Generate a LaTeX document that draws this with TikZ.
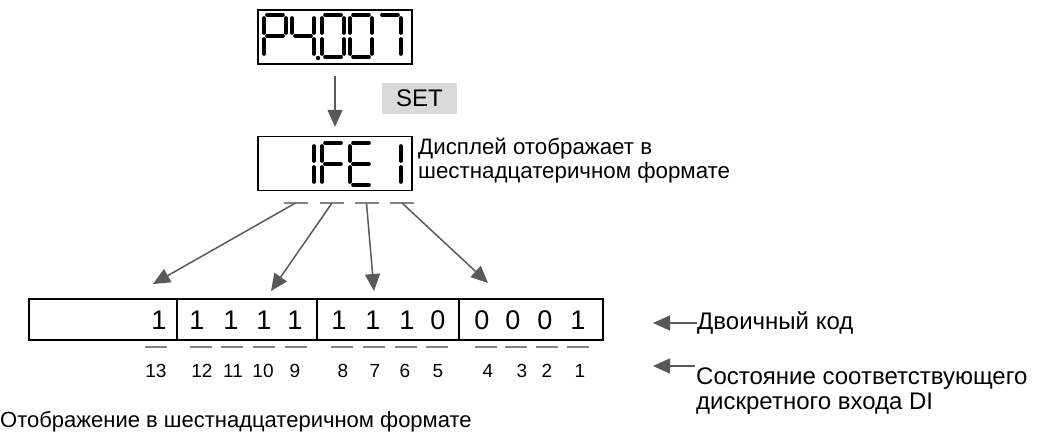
\documentclass[tikz,border=0pt]{standalone}
\usepackage{fontspec}
\setmainfont{Liberation Sans}
\usetikzlibrary{arrows.meta}
\definecolor{arrc}{HTML}{595959}
\definecolor{dashc}{HTML}{858585}
\definecolor{setbg}{HTML}{D9D9D9}
\newcommand\ssA{\draw[seg] (3,0)--(19,0);}
\newcommand\ssB{\draw[seg] (22,3)--(22,18);}
\newcommand\ssC{\draw[seg] (22,24)--(22,39);}
\newcommand\ssD{\draw[seg] (3,42)--(19,42);}
\newcommand\ssE{\draw[seg] (0,24)--(0,39);}
\newcommand\ssF{\draw[seg] (0,3)--(0,18);}
\newcommand\ssG{\draw[seg] (3,21)--(19,21);}
\newcommand\digitat[3]{\begin{scope}[shift={(#1,#2)}]#3\end{scope}}
\begin{document}
\begin{tikzpicture}[x=1pt,y=-1pt,
  seg/.style={line width=3.6pt,line cap=round},
  dispbox/.style={draw,line width=1.4pt,inner sep=0pt,minimum width=154pt,minimum height=54pt},
  arr/.style={draw=arrc,line width=1.5pt,-{Triangle[length=17pt,width=15pt]},arrc},
  hdash/.style={draw=dashc,line width=2.3pt},
  txt/.style={inner sep=0pt,font=\fontsize{22}{24}\selectfont,align=left},
  bigdig/.style={inner sep=0pt,font=\fontsize{27}{30}\selectfont},
  numlbl/.style={inner sep=0pt,font=\fontsize{19}{22}\selectfont},
  cell/.style={line width=1.4pt}]
\useasboundingbox (0,0) rectangle (1041,439);
% top display
\node[dispbox] (disp1) at (335,37) {};
\digitat{264}{15}{\ssA\ssB\ssF\ssG\ssE}
\digitat{292}{15}{\ssF\ssG\ssB\ssC}
\fill (318,58) circle (2.2pt);
\digitat{322}{15}{\ssA\ssB\ssC\ssD\ssE\ssF}
\digitat{350}{15}{\ssA\ssB\ssC\ssD\ssE\ssF}
\digitat{379}{15}{\ssA\ssB\ssC}
% second display
\node[dispbox] (disp2) at (335,163.5) {};
\digitat{292}{143}{\ssB\ssC}
\digitat{322}{143}{\ssA\ssF\ssG\ssE}
\digitat{350}{143}{\ssA\ssF\ssG\ssE\ssD}
\digitat{379}{143}{\ssB\ssC}
\draw[arr,shorten <=11pt,shorten >=9pt] (disp1.south) -- (disp2.north);
\node[fill=setbg,minimum width=75pt,minimum height=31pt,inner sep=0pt,font=\fontsize{24}{28}\selectfont] (set) at (419.5,98.5) {SET};
\node[txt,anchor=north west,font=\fontsize{22.3}{23.5}\selectfont] (dtext) at (418,138) {Дисплей отображает в\\шестнадцатеричном формате};
% dashes under display
\coordinate (h1) at (295.5,203);
\coordinate (h2) at (332,203);
\coordinate (h3) at (366.5,203);
\coordinate (h4) at (402,203);
\foreach \c in {h1,h2,h3,h4}{\draw[hdash] ([xshift=-12pt]\c) -- ([xshift=12pt]\c);}
\coordinate (t1) at (153,284);
\coordinate (t2) at (271,291);
\coordinate (t3) at (374,291);
\coordinate (t4) at (488,283);
\draw[arr] (h1) -- (t1);
\draw[arr] (h2) -- (t2);
\draw[arr] (h3) -- (t3);
\draw[arr] (h4) -- (t4);
% binary row
\draw[cell] (29,299) rectangle (603,340);
\draw[cell] (177,299) -- (177,340) (317,299) -- (317,340) (459,299) -- (459,340);
\foreach \x/\d in {159/1,197/1,231/1,264/1,295/1,339/1,373/1,407/1,438/0,482/0,513/0,545/0,578/1}{
  \node[bigdig] at (\x,320) {\d};}
\foreach \x in {156,201,232,264,296,342,374,406,437,486,516,547,578}{
  \draw[hdash] (\x-11,347) -- (\x+11,347);}
\foreach \x/\n in {156/13,202/12,233/11,263/10,295/9,343/8,375/7,405/6,438/5,488/4,522/3,547/2,580/1}{
  \node[numlbl] at (\x,371) {\n};}
% right labels
\node[txt,anchor=west,font=\fontsize{24}{26}\selectfont] (bin) at (697,323) {Двоичный код};
\coordinate (r1) at (653,323);
\draw[arr] (bin.west) -- (r1);
\node[txt,anchor=north west,font=\fontsize{24}{25}\selectfont] (state) at (696,368) {Состояние соответствующего\\дискретного входа DI};
\coordinate (s0) at (695,366);
\coordinate (r2) at (653,366);
\draw[arr] (s0) -- (r2);
\node[txt,anchor=west] (bottom) at (0,422) {Отображение в шестнадцатеричном формате};
\end{tikzpicture}
\end{document}
